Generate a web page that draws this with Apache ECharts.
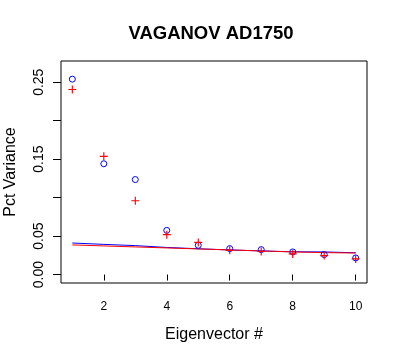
<!DOCTYPE html>
<html>
<head>
<meta charset="utf-8">
<script src="https://cdn.jsdelivr.net/npm/echarts@6/dist/echarts.min.js"></script>
<style>html,body{margin:0;padding:0;background:#fff}#c{width:400px;height:360px}</style>
</head>
<body>
<div id="c"></div>
<script>
var eigenvectors = [1, 2, 3, 4, 5, 6, 7, 8, 9, 10];
var bluePoints = [0.254, 0.144, 0.1235, 0.0574, 0.038, 0.0337, 0.0324, 0.0294, 0.026, 0.0216];
var redPoints = [0.2405, 0.1537, 0.0959, 0.0518, 0.0418, 0.0315, 0.030, 0.0268, 0.0246, 0.0203];
var blueLine = [0.041, 0.0392, 0.0376, 0.0352, 0.0335, 0.0320, 0.0307, 0.0296, 0.0294, 0.0283];
var redLine = [0.0385, 0.0372, 0.0359, 0.0346, 0.0333, 0.0320, 0.0307, 0.0294, 0.0285, 0.0280];
var xTicks = [2, 4, 6, 8, 10];
var yTicks = [0, 0.05, 0.10, 0.15, 0.20, 0.25];
var yTickLabels = [0, 0.05, 0.15, 0.25];

function pairs(xs, ys) { return xs.map(function (x, i) { return [x, ys[i]]; }); }

var chart = echarts.init(document.getElementById('c'), null, { renderer: 'canvas' });
var font = 'Liberation Sans, Arial, sans-serif';
chart.setOption({
  animation: false,
  backgroundColor: '#fff',
  title: {
    text: 'VAGANOV AD1750', left: 211, top: 24, textAlign: 'center', padding: 0,
    textStyle: { fontFamily: font, fontSize: 18.5, fontWeight: 'bold', color: '#000' }
  },
  grid: { left: 61, top: 61, width: 306, height: 222, outerBoundsMode: 'none', containLabel: false,
    show: true, borderColor: '#000', borderWidth: 1, backgroundColor: 'transparent' },
  xAxis: {
    type: 'value', min: 0.64, max: 10.36,
    name: 'Eigenvector #', nameLocation: 'middle', nameGap: 44,
    nameTextStyle: { fontFamily: font, fontSize: 16, color: '#000' },
    axisLine: { show: false },
    splitLine: { show: false },
    axisTick: { show: true, length: 6, inside: false, customValues: xTicks, lineStyle: { color: '#000' } },
    axisLabel: { customValues: xTicks, margin: 18, fontFamily: font, fontSize: 12, color: '#000' }
  },
  yAxis: {
    type: 'value', min: -0.011, max: 0.2776,
    name: 'Pct Variance', nameLocation: 'middle', nameGap: 42, nameRotate: 90,
    nameTextStyle: { fontFamily: font, fontSize: 16, color: '#000' },
    axisLine: { show: false },
    splitLine: { show: false },
    axisTick: { show: true, length: 8, inside: false, customValues: yTicks, lineStyle: { color: '#000' } },
    axisLabel: {
      customValues: yTickLabels, rotate: 90, margin: 15, fontFamily: font, fontSize: 14, color: '#000',
      formatter: function (v) { return v.toFixed(2); }
    }
  },
  series: [
    { type: 'line', data: pairs(eigenvectors, blueLine), symbol: 'none', lineStyle: { color: '#0000ff', width: 1 }, z: 2 },
    { type: 'line', data: pairs(eigenvectors, redLine), symbol: 'none', lineStyle: { color: '#ff0000', width: 1 }, z: 3 },
    { type: 'scatter', data: pairs(eigenvectors, bluePoints), symbol: 'circle', symbolSize: 6,
      itemStyle: { color: 'transparent', borderColor: '#0000ff', borderWidth: 1, opacity: 1 }, z: 4 },
    { type: 'scatter', data: pairs(eigenvectors, redPoints), symbol: 'path://M3,0H4V3H7V4H4V7H3V4H0V3H3Z', symbolSize: 8,
      itemStyle: { color: '#ff0000', opacity: 1 }, z: 5 }
  ]
});
</script>
</body>
</html>
